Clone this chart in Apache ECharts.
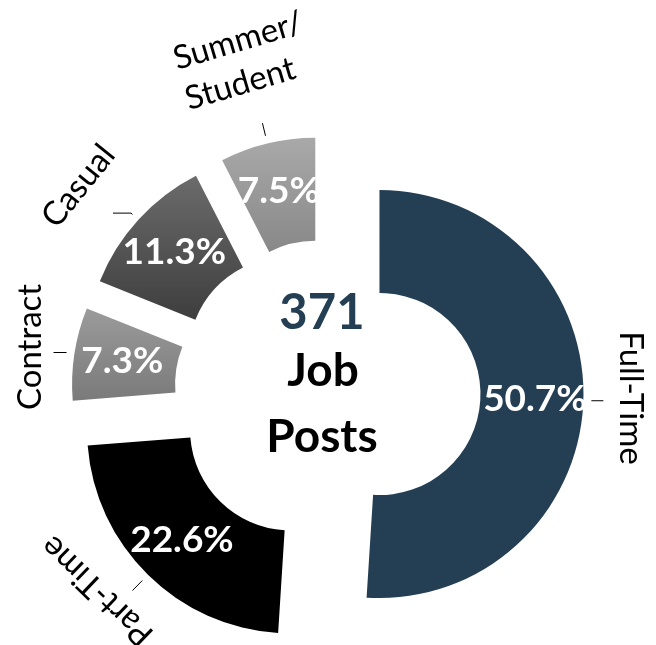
<!DOCTYPE html>
<html><head><meta charset="utf-8">
<script src="https://cdn.jsdelivr.net/npm/echarts@6/dist/echarts.min.js"></script>
<style>html,body{margin:0;padding:0;background:#fff}#c{width:656px;height:645px}</style>
</head><body><div id="c"></div>
<script>
// ---- data ----
const categories = ['Full-Time', 'Part-Time', 'Contract', 'Casual', 'Summer/Student'];
const shares = [50.7, 22.6, 7.3, 11.3, 7.5];
const totalPosts = '371';
const centerWords = ['Job', 'Posts'];

// ---- styling ----
const sliceColors = ['#243F53', '#000000', ['#9b9b9b', '#7a7a7a'], ['#6b6b6b', '#3e3e3e'], ['#a9a9a9', '#888888']];
const nameRotate = [-90, 136, 90, 51, 16.5];
const nameRadius = [248, 248, 246, 269, 287];
const namePadding = [[0, 8, 0, 0], [0, 0, 0, 50], [0, 0, 0, 0], [0, 31, 0, 0], [0, 8, 0, 0]];
const tickLen = [[0, 12], [14, 0], [0, 13], [2, 18], [13, 0]];
const CENTER = [327.5, 392.4];
const OFFSET = 52;

function fill(c) {
  if (Array.isArray(c)) {
    return { type: 'linear', x: 0, y: 0, x2: 0, y2: 1, colorStops: [{ offset: 0, color: c[0] }, { offset: 1, color: c[1] }] };
  }
  return c;
}
const FONT = 'Lato, "Open Sans", sans-serif';
const clear = 'rgba(0,0,0,0)';

const base = {
  type: 'pie', center: CENTER, startAngle: 90,
  selectedMode: 'multiple', selectedOffset: OFFSET, avoidLabelOverlap: false,
  emphasis: { disabled: true }
};

const series = [
  Object.assign({}, base, {
    name: 'slices', radius: [101, 204],
    label: { show: true, position: 'inside', color: '#ffffff', fontFamily: FONT, fontWeight: 'bold', fontSize: 37,
      formatter: p => p.value.toFixed(1) + '%' },
    labelLine: { show: false },
    data: categories.map((n, i) => ({ name: n, value: shares[i], selected: true,
      itemStyle: { color: fill(sliceColors[i]) }, select: { itemStyle: { color: fill(sliceColors[i]) } } }))
  }),
  Object.assign({}, base, {
    name: 'ticks', radius: [200, 212], silent: true,
    itemStyle: { color: clear },
    label: { show: true, position: 'outside', formatter: ' ', fontSize: 4, color: clear },
    data: categories.map((n, i) => ({ name: n, value: shares[i], selected: true,
      select: { itemStyle: { color: clear } },
      labelLine: { show: true, length: tickLen[i][0], length2: tickLen[i][1], lineStyle: { color: '#000', width: 1 } } }))
  })
];

const nameStyle = { color: '#000000', fontFamily: FONT, fontSize: 33, lineHeight: 42 };
categories.forEach((cat, k) => {
  series.push(Object.assign({}, base, {
    name: 'name-' + k, radius: [nameRadius[k] - 4, nameRadius[k] + 4], silent: true,
    itemStyle: { color: clear },
    label: Object.assign({ show: false, position: 'inside',
      formatter: p => p.name.indexOf('/') >= 0 ? p.name.split('/').map((s, j, a) => '{w|' + s + (j < a.length - 1 ? '/' : '') + '}').join('\n') : p.name,
      rich: { w: Object.assign({ width: 132, align: 'left' }, nameStyle) } }, nameStyle),
    labelLine: { show: false },
    data: categories.map((n, i) => ({ name: n, value: shares[i], selected: true,
      select: { itemStyle: { color: clear } },
      label: i === k ? { show: true, rotate: nameRotate[i], padding: namePadding[i] } : { show: false } }))
  }));
});

const shadow = { shadowColor: 'rgba(0,0,0,0.35)', shadowBlur: 5, shadowOffsetX: 2, shadowOffsetY: 3 };
const chart = echarts.init(document.getElementById('c'), null, { renderer: 'canvas' });
chart.setOption({
  backgroundColor: '#ffffff',
  animation: false,
  series: series,
  graphic: [
    { type: 'text', x: 322, y: 313, silent: true,
      style: Object.assign({ text: totalPosts, fill: '#243F53', font: 'bold 49px ' + FONT, align: 'center', verticalAlign: 'middle' }, shadow) },
    { type: 'text', x: 323, y: 371, silent: true,
      style: Object.assign({ text: centerWords[0], fill: '#000000', font: 'bold 46px ' + FONT, align: 'center', verticalAlign: 'middle' }, shadow) },
    { type: 'text', x: 322, y: 437, silent: true,
      style: Object.assign({ text: centerWords[1], fill: '#000000', font: 'bold 46px ' + FONT, align: 'center', verticalAlign: 'middle' }, shadow) }
  ]
});
</script></body></html>
